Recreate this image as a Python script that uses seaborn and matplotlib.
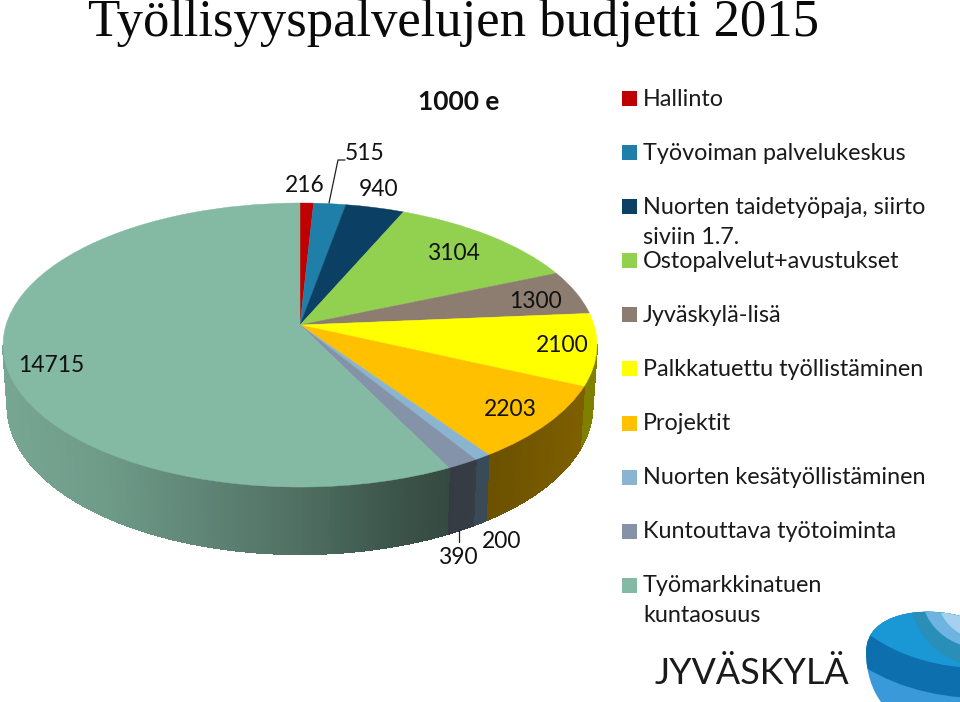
import numpy as np
import seaborn as sns
import matplotlib
matplotlib.use("Agg")
import matplotlib.pyplot as plt
from matplotlib.patches import Rectangle, Ellipse, PathPatch
from matplotlib.path import Path
from matplotlib.transforms import Transform

categories = ["Hallinto", "Työvoiman palvelukeskus", "Nuorten taidetyöpaja, siirto\nsiviin 1.7.",
              "Ostopalvelut+avustukset", "Jyväskylä-lisä", "Palkkatuettu työllistäminen",
              "Projektit", "Nuorten kesätyöllistäminen", "Kuntouttava työtoiminta",
              "Työmarkkinatuen\nkuntaosuus"]
values = [216, 515, 940, 3104, 1300, 2100, 2203, 200, 390, 14715]
colors = ["#c00000", "#1f7fa8", "#0b3f63", "#92d050", "#8c7d70",
          "#ffff00", "#ffc000", "#8ab4d0", "#8593a8", "#84b9a3"]
# where each value label sits, in pixels
label_x = [305, 365, 379, 454, 535, 562, 510, 502, 459, 51]
label_y = [186, 153, 189, 254, 301, 346, 410, 542, 558, 366]

sns.set_theme(style="white")
plt.rcParams["font.family"] = ["Lato", "DejaVu Sans"]
palette = sns.color_palette(colors)

CX, CY = 300, 325
RX, RY, TILT = 294, 139.2, 0.141


def project(x, y):
    w = 1 + TILT * y
    return CX + RX * x / w, CY - RY * y / w


class PieProjection(Transform):
    input_dims = output_dims = 2

    def transform_non_affine(self, xy):
        xy = np.asarray(xy, dtype=float)
        px, py = project(xy[:, 0], xy[:, 1])
        return np.column_stack([px, py])


fig = plt.figure(figsize=(9.6, 7.02), dpi=100)
ax = fig.add_axes([0, 0, 1, 1])

# top of the pie
wedges, _ = ax.pie(values, colors=palette, startangle=90, counterclock=False,
                   wedgeprops=dict(linewidth=0.3, zorder=3))
for w, c in zip(wedges, palette):
    w.set_edgecolor(c)
    w.set_transform(PieProjection() + ax.transData)
ax.set_aspect("auto")
ax.set_xlim(0, 960)
ax.set_ylim(702, 0)
ax.axis("off")

# side wall, darkened towards the front right
shade_x = [0, 100, 200, 300, 400, 450, 490, 590]
shade_v = [0.9, 0.84, 0.72, 0.6, 0.45, 0.4, 0.42, 0.5]
fracs = np.cumsum([0] + values) / sum(values)
for i, c in enumerate(palette):
    start = np.pi / 2 - 2 * np.pi * fracs[i]
    stop = np.pi / 2 - 2 * np.pi * fracs[i + 1]
    n = max(2, int(abs(stop - start) / 0.012))
    edges = np.linspace(start, stop, n)
    for a0, a1 in zip(edges[:-1], edges[1:]):
        if np.sin((a0 + a1) / 2) > -0.14:
            continue
        t = np.linspace(a0, a1, 4)
        tx, ty = project(np.cos(t), np.sin(t))
        depth = 60 - 7 * np.sin(t)
        bx = CX + (tx - CX) * 0.985
        by = ty + depth
        k = np.interp(tx.mean(), shade_x, shade_v)
        shaded = tuple(np.array(c) * k)
        ax.fill(np.r_[tx, bx[::-1]], np.r_[ty, by[::-1]], color=shaded, lw=0.8,
                antialiased=False, zorder=1)

# value labels
for v, x, y in zip(values, label_x, label_y):
    ax.text(x, y, str(v), ha="center", va="center", fontsize=16.4, color="#111111", zorder=5)
ax.plot([329, 338, 345], [203, 160, 160], color="#222222", lw=0.9, zorder=5)
ax.plot([458.5, 458.5], [530, 542], color="#222222", lw=0.9, zorder=5)

# legend
legend_y = [98, 152, 206, 260, 314, 368, 423, 477, 531, 585]
for name, c, y in zip(categories, palette, legend_y):
    ax.add_patch(Rectangle((622, y - 7.5), 15, 15, color=c, lw=0))
    for j, line in enumerate(name.split("\n")):
        ax.text(643, y + 1 + j * 30, line, ha="left", va="center", fontsize=16.8, color="#1a1a1a")

ax.text(459, 102, "1000 e", ha="center", va="center", fontsize=19, fontweight="bold", color="#111111")
ax.text(88, 36, "Työllisyyspalvelujen budjetti 2015", ha="left", va="baseline", fontsize=38,
        family=["Liberation Serif", "DejaVu Serif"], color="#0a0a0a")

# city logo
ax.text(655, 673, "JYVÄSKYLÄ", ha="left", va="center", fontsize=25.8, color="#1a1a1a")
blob = PathPatch(Path([(960, 616), (925, 606), (866, 612), (866, 652), (866, 672), (872, 690), (881, 702),
                       (960, 702), (960, 616)],
                      [Path.MOVETO, Path.CURVE4, Path.CURVE4, Path.CURVE4, Path.CURVE4, Path.CURVE4, Path.CURVE4,
                       Path.LINETO, Path.CLOSEPOLY]), fc="#3a9ad9", ec="none", zorder=2)
ax.add_patch(blob)
bands = [((980, 560), 183, 138, "#0e6fae"), ((980, 560), 153, 108, "#1a97d5"),
         ((985, 595), 75, 72, "#2a8fb8"), ((985, 595), 63, 54, "#6db5e0"),
         ((985, 595), 48, 45, "#a6d1ee")]
for center, rx, ry, c in bands:
    e = Ellipse(center, 2 * rx, 2 * ry, fc=c, ec="none", zorder=3)
    ax.add_patch(e)
    e.set_clip_path(blob)

fig.savefig("out.png", dpi=100)
